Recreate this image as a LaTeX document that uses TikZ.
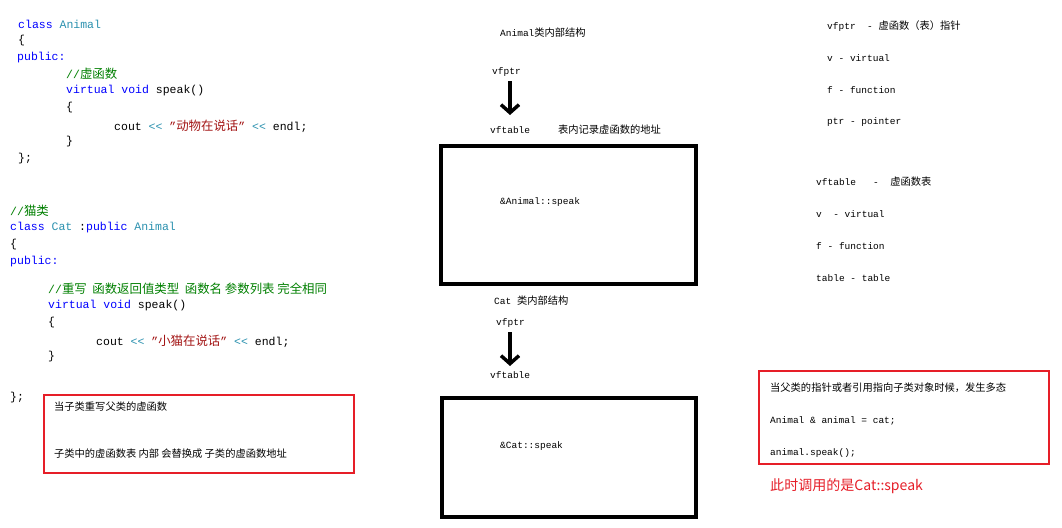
\documentclass[tikz,border=0pt]{standalone}
\usepackage{fontspec}
\setmainfont{Liberation Mono}
\newfontfamily\cj{Noto Sans CJK SC}[Scale=1.08]
\usetikzlibrary{arrows.meta}
\definecolor{kw}{RGB}{0,0,255}
\definecolor{ty}{RGB}{43,145,175}
\definecolor{cm}{RGB}{0,128,0}
\definecolor{st}{RGB}{163,21,21}
\definecolor{rb}{RGB}{230,30,40}
\newcommand{\shl}{{\color{ty}<\kern0pt<}}
\begin{document}
\begin{tikzpicture}[x=1pt,y=-1pt,
  code/.style={anchor=west,inner sep=0pt,font=\fontsize{11.5}{13}\selectfont},
  small/.style={anchor=west,inner sep=0pt,font=\fontsize{9.5}{11}\selectfont},
  bigbox/.style={draw,line width=3.5pt},
  redbox/.style={draw=rb,line width=1.8pt},
  barrow/.style={line width=3.5pt,-{Straight Barb[length=8pt,width=18pt,line width=3.5pt]}}]
\useasboundingbox[fill=white] (0,0) rectangle (1062,527);
% left code
\node[code] (c1) at (18,24) {\color{kw}class \color{ty}Animal};
\node[code] (c2) at (18,41) {\{};
\node[code] (c3) at (17,58) {\color{kw}public:};
\node[code] (c4) at (66,74) {\color{cm}//{\cj 虚函数}};
\node[code] (c5) at (66,91) {\color{kw}virtual void \color{black}speak()};
\node[code] (c6) at (66,108) {\{};
\node[code] (c7) at (114,126) {cout \shl{} {\color{st}"{\cj 动物在说话}"} \shl{} endl;};
\node[code] (c8) at (66,142) {\}};
\node[code] (c9) at (18,159) {\};};
\node[code] (d1) at (10,211) {\color{cm}//{\cj 猫类}};
\node[code] (d2) at (10,228) {\color{kw}class \color{ty}Cat \color{black}:\color{kw}public \color{ty}Animal};
\node[code] (d3) at (10,245) {\{};
\node[code] (d4) at (10,262) {\color{kw}public:};
\node[code] (d5) at (48,289) {\color{cm}//{\cj 重写\ \ 函数返回值类型\ \ 函数名 参数列表 完全相同}};
\node[code] (d6) at (48,306) {\color{kw}virtual void \color{black}speak()};
\node[code] (d7) at (48,323) {\{};
\node[code] (d8) at (96,341) {cout \shl{} {\color{st}"{\cj 小猫在说话}"} \shl{} endl;};
\node[code] (d9) at (48,357) {\}};
\node[code] (d10) at (10,398) {\};};
\draw[redbox] (44,395) rectangle (354,473);
\node[small] (r1) at (54,407) {\cj 当子类重写父类的虚函数};
\node[small] (r2) at (54,454) {\cj 子类中的虚函数表 内部 会替换成 子类的虚函数地址};
% middle
\node[small] (m1) at (500,33) {Animal{\cj 类内部结构}};
\node[small] (vp1) at (492,72) {vfptr};
\node[small] (vt1) at (490,130) {vftable};
\node[small] (m2) at (558,130) {\cj 表内记录虚函数的地址};
\draw[barrow] (510,81) -- (510,115);
\draw[bigbox] (441,146) rectangle (696,284);
\node[small] (a1) at (500,202) {\&Animal::speak};
\node[small] (m3) at (494,301) {Cat {\cj 类内部结构}};
\node[small] (vp2) at (496,323) {vfptr};
\draw[barrow] (510,332) -- (510,366);
\node[small] (vt2) at (490,375) {vftable};
\draw[bigbox] (442,398) rectangle (696,517);
\node[small] (a2) at (500,446) {\&Cat::speak};
% right
\node[small] (e1) at (827,26) {vfptr\ \ - {\cj 虚函数（表）指针}};
\node[small] (e2) at (827,58) {v - virtual};
\node[small] (e3) at (827,90) {f - function};
\node[small] (e4) at (827,122) {ptr - pointer};
\node[small] (f1) at (816,182) {vftable\ \ \ -\ \ {\cj 虚函数表}};
\node[small] (f2) at (816,214) {v\ \ - virtual};
\node[small] (f3) at (816,246) {f - function};
\node[small] (f4) at (816,278) {table - table};
\draw[redbox] (759,371) rectangle (1049,464);
\node[small] (g1) at (770,388) {\cj 当父类的指针或者引用指向子类对象时候，发生多态};
\node[small] (g2) at (770,421) {Animal \& animal = cat;};
\node[small] (g3) at (770,453) {animal.speak();};
\node[anchor=west,inner sep=0pt,text=rb,font=\cj\fontsize{13}{15}\selectfont] (g4) at (770,486) {此时调用的是Cat::speak};
\end{tikzpicture}
\end{document}
